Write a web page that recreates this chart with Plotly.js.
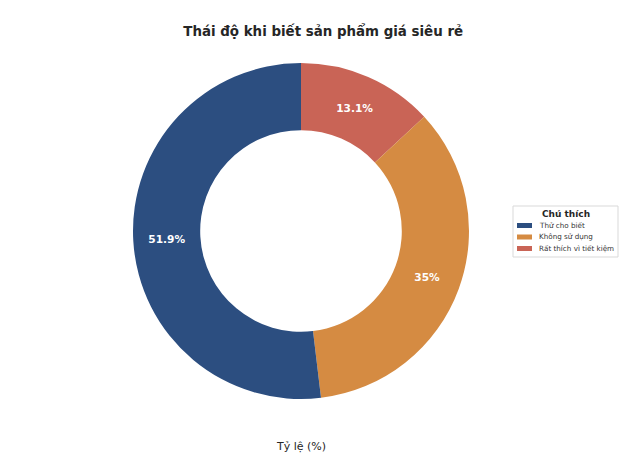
<!DOCTYPE html>
<html>
<head>
<meta charset="utf-8">
<script src="https://cdn.plot.ly/plotly-3.0.1.min.js"></script>
<style>html,body{margin:0;padding:0;background:#fff;}#chart{width:640px;height:459px;}</style>
</head>
<body>
<div id="chart"></div>
<script>
const labels = ["Thử cho biết", "Không sử dụng", "Rất thích vì tiết kiệm"];
const values = [51.9, 35, 13.1];
const colors = ["#2c4e80", "#d58b42", "#c96456"];
const titleText = "Thái độ khi biết sản phẩm giá siêu rẻ";
const xLabel = "Tỷ lệ (%)";
const legendTitle = "Chú thích";

const M = {l: 133, r: 171, t: 63, b: 60};
const PW = 640 - M.l - M.r, PH = 459 - M.t - M.b;
const px = x => (x - M.l) / PW;
const py = y => (459 - M.b - y) / PH;

// slices drawn clockwise from 12 o'clock in reverse order (= counterclockwise in original order)
const trace = {
  type: "pie",
  labels: labels.slice().reverse(),
  values: values.slice().reverse(),
  hole: 0.6,
  sort: false,
  direction: "clockwise",
  rotation: 0,
  marker: {colors: colors.slice().reverse(), line: {width: 0}},
  texttemplate: "%{value}%",
  textposition: "inside",
  insidetextorientation: "horizontal",
  textfont: {family: "DejaVu Sans", size: 10.6, color: "#ffffff", weight: "bold"},
  hoverinfo: "label+percent"
};

const shapes = [{
  type: "rect", xref: "paper", yref: "paper",
  x0: px(513), x1: px(618), y0: py(206), y1: py(257),
  line: {color: "#d9d9d9", width: 1}, fillcolor: "#ffffff", layer: "above"
}];
const annotations = [{
  text: xLabel, xref: "paper", yref: "paper", x: 0.5, y: py(446),
  xanchor: "center", yanchor: "middle", showarrow: false,
  font: {family: "DejaVu Sans", size: 11, color: "#262626"}
}, {
  text: "<b>" + legendTitle + "</b>", xref: "paper", yref: "paper", x: px(566), y: py(214),
  xanchor: "center", yanchor: "middle", showarrow: false,
  font: {family: "DejaVu Sans", size: 9, color: "#262626"}
}];
const itemY = [225.5, 237, 248.5];
labels.forEach((lab, i) => {
  shapes.push({
    type: "rect", xref: "paper", yref: "paper",
    x0: px(517), x1: px(532), y0: py(itemY[i] + 2.5), y1: py(itemY[i] - 2.5),
    line: {width: 0}, fillcolor: colors[i], layer: "above"
  });
  annotations.push({
    text: lab, xref: "paper", yref: "paper", x: px(537), y: py(itemY[i]),
    xanchor: "left", yanchor: "middle", showarrow: false,
    font: {family: "DejaVu Sans", size: 7.2, color: "#333333"}
  });
});

const layout = {
  width: 640, height: 459,
  paper_bgcolor: "#ffffff",
  plot_bgcolor: "#ffffff",
  margin: {l: M.l, r: M.r, t: M.t, b: M.b, autoexpand: false},
  title: {text: "<b>" + titleText + "</b>", x: 0.505, xanchor: "center", y: 0.932, yanchor: "middle",
          font: {family: "DejaVu Sans", size: 13.4, color: "#262626"}},
  showlegend: false,
  shapes: shapes,
  annotations: annotations
};

Plotly.newPlot("chart", [trace], layout, {displayModeBar: false, staticPlot: true});
</script>
</body>
</html>
